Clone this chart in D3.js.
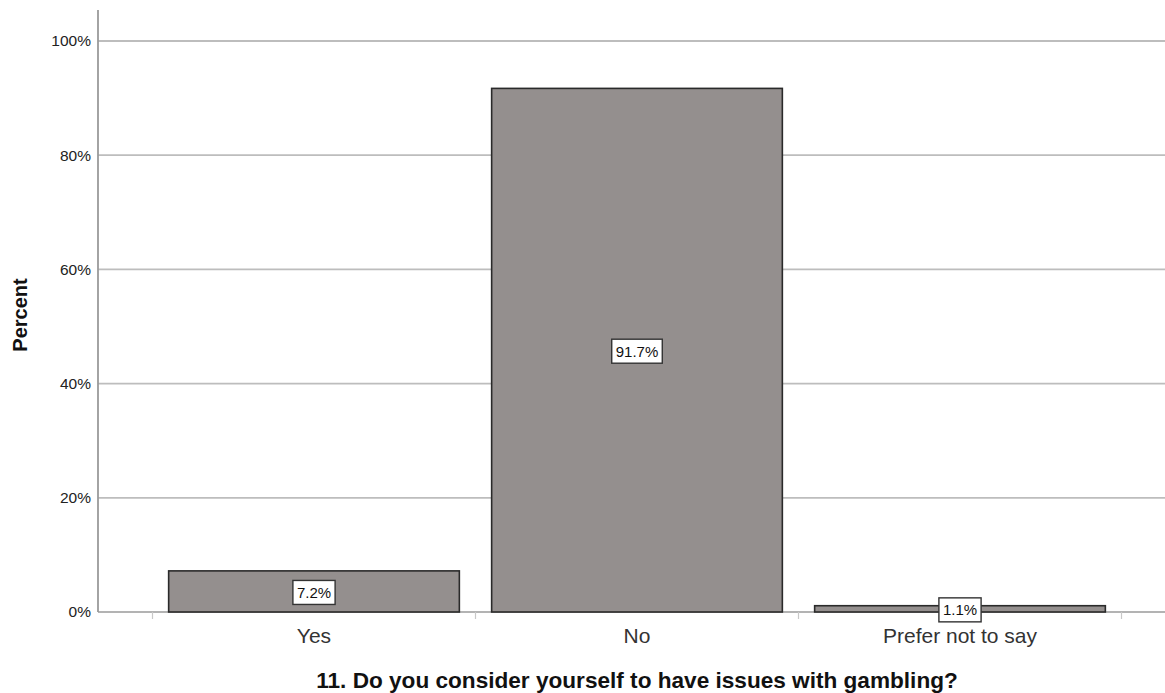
<!DOCTYPE html>
<html><head><meta charset="utf-8">
<script src="https://cdn.jsdelivr.net/npm/d3@7"></script>
<style>body{margin:0;background:#fff;} svg{display:block;font-family:Arial,"Liberation Sans",sans-serif;}</style>
</head><body>
<svg id="chart" width="1165" height="693"></svg>
<script>
const categories = ["Yes", "No", "Prefer not to say"];
const percents = [7.2, 91.7, 1.1];
const labels = ["7.2%", "91.7%", "1.1%"];
const yTicks = [0, 20, 40, 60, 80, 100];
const xTitle = "11. Do you consider yourself to have issues with gambling?";
const yTitle = "Percent";

const svg = d3.select("#chart");
const axisX = 98, y0 = 612, y100 = 41;
const y = d3.scaleLinear().domain([0, 100]).range([y0, y100]);
const x = d3.scaleBand().domain(categories).range([152.5, 1121.5]).paddingInner(0.1).paddingOuter(0.05);

// gridlines
svg.append("g").selectAll("line").data(yTicks.filter(d => d > 0)).join("line")
  .attr("x1", axisX).attr("x2", 1165)
  .attr("y1", d => y(d)).attr("y2", d => y(d))
  .attr("stroke", "#bdbdbd").attr("stroke-width", 1.8);

// y axis
const yAxis = svg.append("g").attr("transform", `translate(${axisX},0)`)
  .call(d3.axisLeft(y).tickValues(yTicks).tickFormat(d => d + "%").tickSize(0).tickPadding(7));
yAxis.select(".domain").remove();
yAxis.selectAll("text").attr("font-size", 15.5).attr("fill", "#222").attr("font-family", "Arial, Liberation Sans, sans-serif");
svg.append("line").attr("x1", axisX).attr("x2", axisX).attr("y1", 10).attr("y2", y0)
  .attr("stroke", "#9a9a9a").attr("stroke-width", 1.8);

// x baseline
svg.append("line").attr("x1", axisX).attr("x2", 1165).attr("y1", y0).attr("y2", y0)
  .attr("stroke", "#9a9a9a").attr("stroke-width", 1.5);

// boundary ticks
const step = x.step();
const gap = (step - x.bandwidth()) / 2;
const bounds = categories.map(c => x(c) - gap).concat([x(categories[categories.length - 1]) + x.bandwidth() + gap]);
svg.append("g").selectAll("line").data(bounds).join("line")
  .attr("x1", d => d).attr("x2", d => d).attr("y1", y0).attr("y2", y0 + 7)
  .attr("stroke", "#c8c8c8").attr("stroke-width", 1.2);

// bars
svg.append("g").selectAll("rect").data(categories).join("rect")
  .attr("x", d => x(d)).attr("width", x.bandwidth())
  .attr("y", (d, i) => y(percents[i])).attr("height", (d, i) => y0 - y(percents[i]))
  .attr("fill", "#948f8e").attr("stroke", "#2a2a2a").attr("stroke-width", 1.6);

// value labels
const lg = svg.append("g");
categories.forEach((c, i) => {
  const cx = x(c) + x.bandwidth() / 2;
  const cy = (y(percents[i]) + y0) / 2 + 1;
  const t = lg.append("text").attr("x", cx).attr("y", cy).attr("text-anchor", "middle")
    .attr("dominant-baseline", "central").attr("font-size", 15).attr("fill", "#111").text(labels[i]);
  const bb = t.node().getBBox();
  lg.insert("rect", "text").attr("x", bb.x - 4).attr("y", cy - 12).attr("width", bb.width + 8).attr("height", 24)
    .attr("fill", "#fff").attr("stroke", "#333").attr("stroke-width", 1.4);
});

// x tick labels
svg.append("g").selectAll("text").data(categories).join("text")
  .attr("x", d => x(d) + x.bandwidth() / 2).attr("y", 643)
  .attr("text-anchor", "middle").attr("font-size", 21).attr("fill", "#333").text(d => d);

// axis titles
svg.append("text").attr("x", 637).attr("y", 688).attr("text-anchor", "middle")
  .attr("font-size", 22.6).attr("font-weight", "bold").attr("fill", "#111").text(xTitle);
svg.append("text").attr("transform", "translate(27,315) rotate(-90)").attr("text-anchor", "middle")
  .attr("font-size", 20).attr("font-weight", "bold").attr("fill", "#111").text(yTitle);
</script>
</body></html>
